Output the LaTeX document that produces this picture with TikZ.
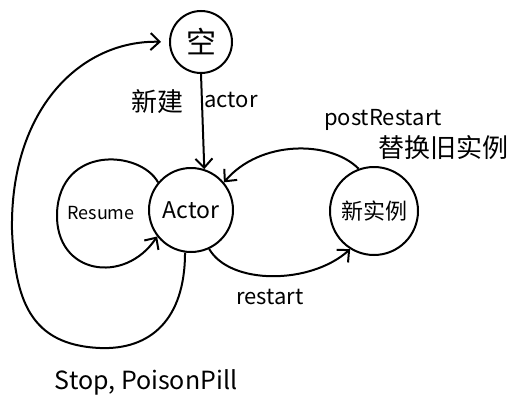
\documentclass[tikz,border=0pt]{standalone}
\usepackage{fontspec}
\setmainfont{Noto Sans CJK SC}
\usetikzlibrary{arrows.meta}

\begin{document}
\begin{tikzpicture}[x=1pt,y=-1pt,line width=2pt,
  state/.style = {draw, circle, inner sep=0pt},
  note/.style = {font=\fontsize{22}{24}\selectfont},
  hanzi/.style = {font=\fontsize{26}{28}\selectfont},
  arr/.style = {-{Straight Barb[length=9pt,width=17pt]}}]
\useasboundingbox (0,0) rectangle (511,404);
\node[state,minimum size=62pt,font=\fontsize{30}{32}\selectfont] (empty) at (201,42) {空};
\node[state,minimum size=84pt,font=\fontsize{23}{25}\selectfont] (actor) at (191,210) {Actor};
\node[state,minimum size=88pt,font=\fontsize{22}{24}\selectfont] (new) at (374,211) {新实例};
\node[hanzi] (create) at (157,102) {新建};
\node[note] (creatorname) at (231,100) {actor};
\node[note,font=\fontsize{18}{20}\selectfont] (resume) at (101,213) {Resume};
\node[note] (post) at (383,120) {postRestart};
\node[hanzi] (swap) at (443,148) {替换旧实例};
\node[note] (restart) at (270,297) {restart};
\node[note,font=\fontsize{25}{27}\selectfont] (stop) at (146,382) {Stop, PoisonPill};
\draw[arr] (empty.south) -- (actor.72);
\draw[arr] (actor.140) .. controls (140,150) and (60,145) .. (57,213)
  .. controls (55,275) and (125,285) .. (actor.218);
\draw[arr] (new.110) .. controls (330,140) and (260,140) .. (actor.40);
\draw[arr] (actor.-65) .. controls (230,285) and (310,285) .. (new.238);
\draw[arr,shorten >=8pt] (actor.262) .. controls (185,320) and (150,350) .. (100,348)
  .. controls (30,345) and (15,300) .. (12,230)
  .. controls (10,110) and (80,40) .. (empty.180);
\end{tikzpicture}
\end{document}
